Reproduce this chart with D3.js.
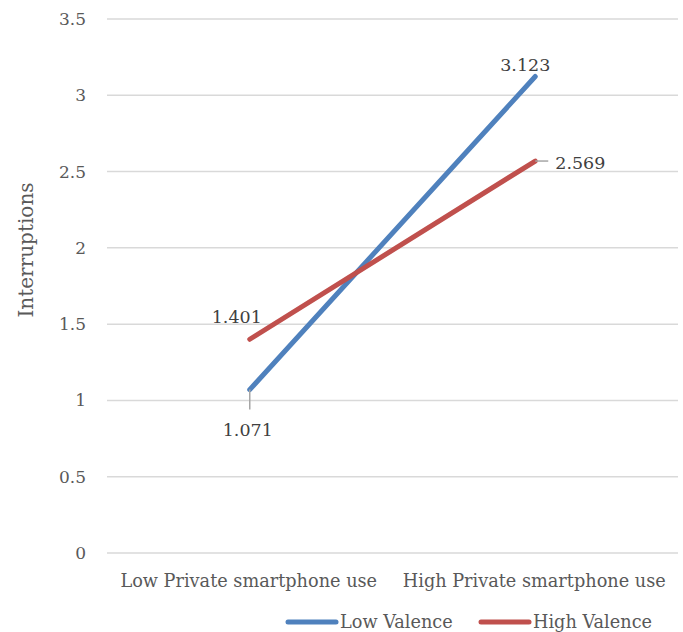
<!DOCTYPE html>
<html>
<head>
<meta charset="utf-8">
<script src="https://cdn.jsdelivr.net/npm/d3@7"></script>
<style>
  body { margin: 0; background: #fff; }
  text { font-family: "DejaVu Serif", "Liberation Serif", serif; fill: #595959; }
</style>
</head>
<body>
<div id="chart"></div>
<script>
// data
const categories = ["Low Private smartphone use", "High Private smartphone use"];
const seriesNames = ["Low Valence", "High Valence"];
const lowValence = [1.071, 3.123];
const highValence = [1.401, 2.569];
const yTicks = [0, 0.5, 1, 1.5, 2, 2.5, 3, 3.5];
const colors = ["#4f81bd", "#c0504d"];

const width = 683, height = 632;
const margin = {top: 19, right: 5, bottom: 79, left: 107};

const svg = d3.select("#chart").append("svg")
  .attr("width", width)
  .attr("height", height);

const x = d3.scaleBand()
  .domain(categories)
  .range([margin.left, width - margin.right]);

const y = d3.scaleLinear()
  .domain([0, 3.5])
  .range([height - margin.bottom, margin.top]);

//----------------------------------------
// gridlines + y labels
//----------------------------------------
svg.append("g")
  .selectAll("line")
  .data(yTicks)
  .enter()
  .append("line")
  .attr("x1", margin.left)
  .attr("x2", width - margin.right)
  .attr("y1", d => y(d))
  .attr("y2", d => y(d))
  .attr("stroke", "#d9d9d9")
  .attr("stroke-width", 1.5);

svg.append("g")
  .selectAll("text")
  .data(yTicks)
  .enter()
  .append("text")
  .attr("x", 86)
  .attr("y", d => y(d))
  .attr("dy", "0.35em")
  .attr("text-anchor", "end")
  .style("font-size", "17px")
  .text(d => d);

svg.append("text")
  .attr("transform", "translate(33, 250) rotate(-90)")
  .attr("text-anchor", "middle")
  .style("font-size", "20px")
  .text("Interruptions");

// category labels
svg.append("g")
  .selectAll("text")
  .data(categories)
  .enter()
  .append("text")
  .attr("x", d => x(d) + x.bandwidth() / 2 - 1)
  .attr("y", 587)
  .attr("text-anchor", "middle")
  .style("font-size", "17.7px")
  .text(d => d);

//----------------------------------------
// lines
//----------------------------------------
const series = [lowValence, highValence];
const px = (i) => x(categories[i]) + x.bandwidth() / 2;

const line = d3.line()
  .x((d, i) => px(i))
  .y(d => y(d));

svg.append("g")
  .selectAll("path")
  .data(series)
  .enter()
  .append("path")
  .attr("d", d => line(d))
  .attr("fill", "none")
  .attr("stroke", (d, i) => colors[i])
  .attr("stroke-width", 5)
  .attr("stroke-linecap", "round");

//----------------------------------------
// data labels
//----------------------------------------
// leader lines
svg.append("line")
  .attr("x1", px(0)).attr("x2", px(0))
  .attr("y1", y(lowValence[0])).attr("y2", y(lowValence[0]) + 20)
  .attr("stroke", "#a6a6a6").attr("stroke-width", 1.5);

svg.append("line")
  .attr("x1", px(1)).attr("x2", px(1) + 13)
  .attr("y1", y(highValence[1])).attr("y2", y(highValence[1]))
  .attr("stroke", "#a6a6a6").attr("stroke-width", 1.5);

const labels = [
  {v: lowValence[0], i: 0, dx: -2, dy: 46, anchor: "middle"},
  {v: lowValence[1], i: 1, dx: -10, dy: -6, anchor: "middle"},
  {v: highValence[0], i: 0, dx: -13, dy: -16, anchor: "middle"},
  {v: highValence[1], i: 1, dx: 20, dy: 8, anchor: "start"}
];

svg.append("g")
  .selectAll("text")
  .data(labels)
  .enter()
  .append("text")
  .attr("x", d => px(d.i) + d.dx)
  .attr("y", d => y(d.v) + d.dy)
  .attr("text-anchor", d => d.anchor)
  .style("font-size", "17.5px")
  .style("fill", "#404040")
  .text(d => d.v.toFixed(3));

//----------------------------------------
// legend
//----------------------------------------
const legX = [288, 481];
const leg = svg.append("g")
  .selectAll("g")
  .data(seriesNames)
  .enter()
  .append("g")
  .attr("transform", (d, i) => `translate(${legX[i]}, 622)`);

leg.append("line")
  .attr("x1", 0).attr("x2", 48)
  .attr("stroke", (d, i) => colors[i])
  .attr("stroke-width", 5)
  .attr("stroke-linecap", "round");

leg.append("text")
  .attr("x", 52)
  .attr("dy", "0.35em")
  .style("font-size", "17.7px")
  .text(d => d);
</script>
</body>
</html>
